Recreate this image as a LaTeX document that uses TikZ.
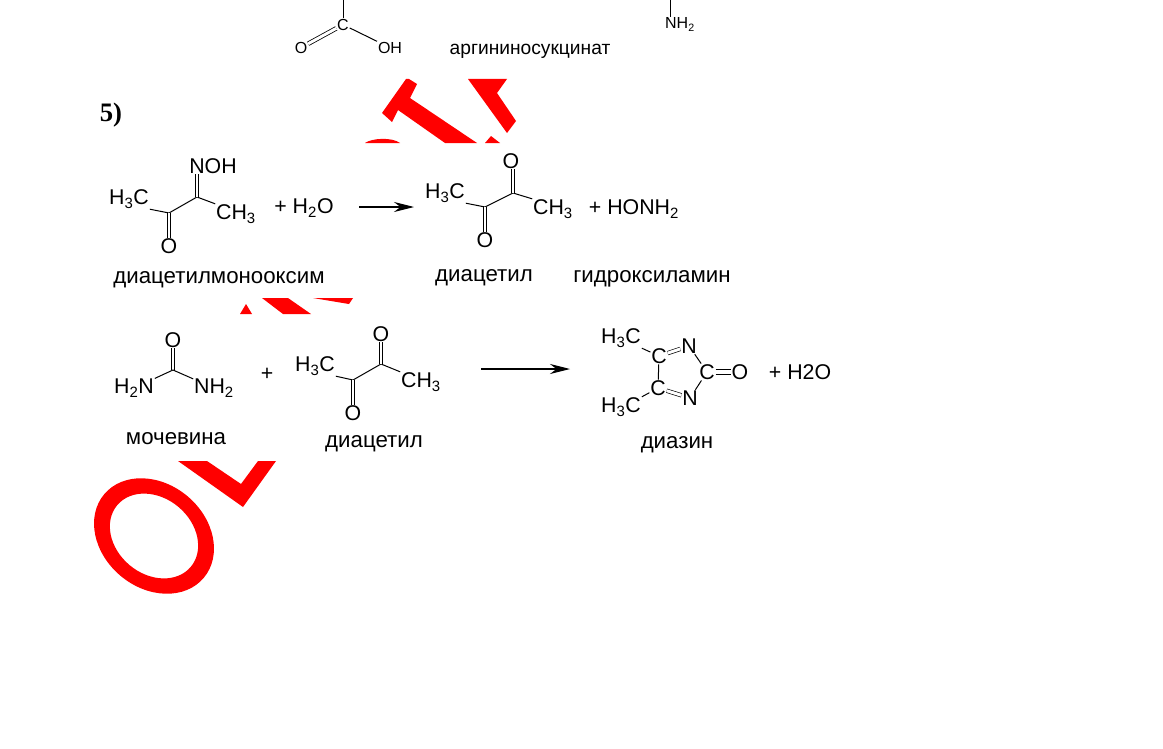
\documentclass[tikz,border=0pt]{standalone}
\usepackage{fontspec}
\usetikzlibrary{arrows.meta}
\setmainfont{Liberation Sans}
\newfontfamily\headfont{Liberation Serif}
\newcommand{\sub}[1]{\textsubscript{#1}}
\tikzset{
  atom/.style={inner sep=0.5pt,yshift=-1.5pt,font=\fontsize{16}{16}\selectfont},
  atomsm/.style={inner sep=0.5pt,yshift=-2pt,font=\fontsize{12}{12}\selectfont},
  caption/.style={inner sep=0pt,yshift=-4.5pt,font=\fontsize{16.7}{17}\selectfont},
  bond/.style={line width=0.75pt},
  dbond/.style={double,double distance=2.2pt,line width=0.6pt},
  rxn/.style={line width=0.8pt,-{Stealth[length=15pt,width=7.5pt]}},
}
\begin{document}
\begin{tikzpicture}[x=0.75pt,y=-0.75pt]
\useasboundingbox (0,0) rectangle (1163,749);
% watermark pieces
\fill[red,even odd rule] (154,536) ellipse [x radius=65,y radius=52,rotate=-40] (154,536) ellipse [x radius=48,y radius=38,rotate=-40];
\fill[red] (178,461)--(207,461)--(241,484)--(258,461)--(276,461)--(243,507)--cycle;
\fill[red] (240,314)--(246,304)--(252,314)--cycle;
\fill[red] (262,298)--(288,298)--(311,314)--(283,314)--cycle;
\fill[red] (313,298)--(353,298)--(349,304)--cycle;
\fill[red] (365,143) .. controls (372,138) and (392,137) .. (400,143)--cycle;
\fill[red] (406,79)--(409,79)--(417,84)--(410,98)--(477,143)--(445,143)--(398,110)--(392,122)--(382,113)--cycle;
\fill[red] (468,79)--(507,79)--(497,93)--(516,121)--(507,133)--cycle;
\fill[red] (491,136)--(500,143)--(485,143)--cycle;
% top fragment
\node[atomsm] (topC) at (343,22) {C};
\node[atomsm] (topO) at (301,45) {O};
\node[atomsm] (topOH) at (390,45) {OH};
\node[atomsm] (topN) at (680,22) {NH\sub{2}};
\coordinate (topA) at (343,0);
\coordinate (topB) at (670,0);
\draw[bond] (topA) -- (topC);
\draw[bond] (topB) -- (topN.north -| topB);
\draw[dbond] (topC) -- (topO);
\draw[bond] (topC) -- (topOH);
\node[caption,font=\fontsize{14.4}{15}\selectfont] (argin) at (530,45) {аргининосукцинат};
\node[inner sep=0pt,font=\headfont\bfseries\fontsize{20}{20}\selectfont] (num) at (111,115) {5)};
% first reaction
\node[atom] (oxH) at (129,197) {H\sub{3}C};
\coordinate (oxA) at (169,213);
\coordinate (oxB) at (197,197);
\node[atom] (oxO) at (169,244) {O};
\node[atom] (oxN) at (213,164) {NOH};
\node[atom] (oxC) at (236,212) {CH\sub{3}};
\draw[bond] (oxH.south east) -- (oxA) -- (oxB) -- (oxC.north west);
\draw[dbond] (oxA) -- (oxO);
\draw[dbond] (oxB) -- (oxB |- oxN.south);
\node[atom] (water) at (304,206) {+ H\sub{2}O};
\coordinate (arA) at (359,207);
\coordinate (arB) at (414,207);
\draw[rxn] (arA) -- (arB);
\node[atom] (diH) at (445,191) {H\sub{3}C};
\coordinate (diA) at (485,207);
\coordinate (diB) at (513,193);
\node[atom] (diO) at (485,238) {O};
\node[atom] (diP) at (511,159) {O};
\node[atom] (diC) at (553,207) {CH\sub{3}};
\draw[bond] (diH.south east) -- (diA) -- (diB) -- (diC.north west);
\draw[dbond] (diA) -- (diO);
\draw[dbond] (diB) -- (diB |- diP.south);
\node[atom] (hydrox) at (634,207) {+ HONH\sub{2}};
\node[caption] (capOx) at (219,274) {диацетилмонооксим};
\node[caption] (capDi) at (484,272) {диацетил};
\node[caption] (capHy) at (652,273) {гидроксиламин};
% second reaction
\node[atom] (urO) at (173,338) {O};
\coordinate (urC) at (173,370);
\node[atom] (urL) at (134,386) {H\sub{2}N};
\node[atom] (urR) at (214,386) {NH\sub{2}};
\draw[dbond] (urC) -- (urO);
\draw[bond] (urL) -- (urC) -- (urR);
\node[atom] (plus) at (267,372) {+};
\node[atom] (dkH) at (315,364) {H\sub{3}C};
\coordinate (dkA) at (353,380);
\coordinate (dkB) at (381,364);
\node[atom] (dkO) at (353,411) {O};
\node[atom] (dkP) at (381,332) {O};
\node[atom] (dkC) at (421,380) {CH\sub{3}};
\draw[bond] (dkH.south east) -- (dkA) -- (dkB) -- (dkC.north west);
\draw[dbond] (dkA) -- (dkO);
\draw[dbond] (dkB) -- (dkP);
\coordinate (arC) at (481,369);
\coordinate (arD) at (570,369);
\draw[rxn] (arC) -- (arD);
% diazine ring
\node[atom] (rgH) at (621,336) {H\sub{3}C};
\node[atom] (rgJ) at (621,405) {H\sub{3}C};
\node[atom] (rgA) at (659,354) {C};
\node[atom] (rgB) at (658,386) {C};
\node[atom] (rgN) at (689,344) {N};
\node[atom] (rgM) at (690,396) {N};
\node[atom] (rgC) at (707,370) {C};
\node[atom] (rgO) at (740,370) {O};
\draw[bond] (rgH.south east) -- (rgA);
\draw[bond] (rgJ.north east) -- (rgB);
\draw[bond] (rgA) -- (rgB);
\draw[dbond,line width=0.5pt] (rgA) -- (rgN);
\draw[dbond,line width=0.5pt] (rgB) -- (rgM);
\draw[bond] (rgN) -- (rgC);
\draw[bond] (rgM) -- (rgC);
\draw[bond] ([yshift=1.6pt]rgC.east) -- ([yshift=1.6pt]rgO.west);
\draw[bond] ([yshift=-1.6pt]rgC.east) -- ([yshift=-1.6pt]rgO.west);
\node[atom] (wat) at (800,370) {+ H2O};
\node[caption] (capUr) at (176,433) {мочевина};
\node[caption] (capDk) at (374,438) {диацетил};
\node[caption] (capRg) at (677,439) {диазин};
\end{tikzpicture}
\end{document}
